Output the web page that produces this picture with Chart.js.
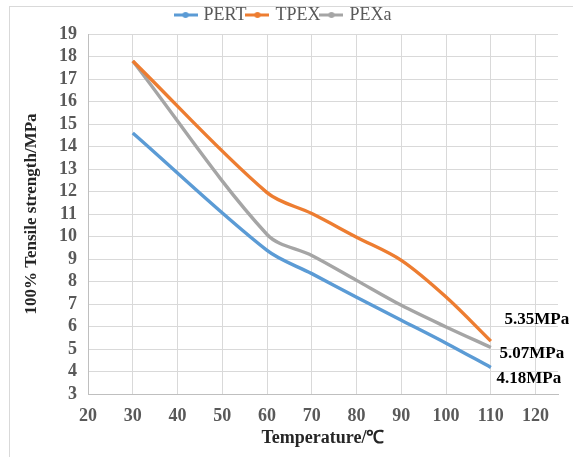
<!DOCTYPE html>
<html>
<head>
<meta charset="utf-8">
<script src="https://cdn.jsdelivr.net/npm/chart.js@4"></script>
<style>
  html, body { margin: 0; padding: 0; background: #fff; }
  #wrap { position: relative; width: 573px; height: 457px; overflow: hidden; }
  #frame { position: absolute; left: 9px; top: 6px; width: 620px; height: 520px; border: 1px solid #d9d9d9; }
  #chart { position: absolute; left: 0; top: 0; }
</style>
</head>
<body>
<div id="wrap">
  <div id="frame"></div>
  <canvas id="chart" width="573" height="457"></canvas>
</div>
<script>
const temps = [30, 60, 70, 80, 90, 100, 110];
const pert = [14.6, 9.38, 8.35, 7.3, 6.28, 5.26, 4.18];
const tpex = [17.8, 11.95, 11.02, 9.97, 8.94, 7.31, 5.35];
const pexa = [17.8, 10.09, 9.16, 8.05, 6.94, 5.98, 5.07];
const xTicks = [20, 30, 40, 50, 60, 70, 80, 90, 100, 110, 120];
const endLabels = ["4.18MPa", "5.35MPa", "5.07MPa"];

const serif = "'Liberation Serif', 'Times New Roman', serif";

// little line-with-dot marker for the legend
function marker(color) {
    const c = document.createElement("canvas");
    c.width = 24; c.height = 8;
    const g = c.getContext("2d");
    g.strokeStyle = color; g.lineWidth = 3;
    g.beginPath(); g.moveTo(0, 4); g.lineTo(24, 4); g.stroke();
    g.fillStyle = color;
    g.beginPath(); g.arc(12, 4, 3, 0, Math.PI * 2); g.fill();
    return c;
}

function series(label, values, color) {
    return {
        label: label,
        data: temps.map((t, i) => ({ x: t, y: values[i] })),
        borderColor: color,
        backgroundColor: color,
        borderWidth: 3.4,
        pointRadius: 0,
        pointStyle: marker(color),
        tension: 0.33,
        fill: false
    };
}

// value labels next to the last point of each line
const offsets = [[38, 11], [46, -22], [41, 6]];
const endLabelPlugin = {
    id: "endLabels",
    afterDatasetsDraw(chart) {
        const ctx = chart.ctx;
        ctx.save();
        ctx.font = "bold 17px " + serif;
        ctx.fillStyle = "#000";
        ctx.textAlign = "center";
        ctx.textBaseline = "middle";
        chart.data.datasets.forEach((ds, i) => {
            const last = ds.data[ds.data.length - 1];
            const px = chart.scales.x.getPixelForValue(last.x);
            const py = chart.scales.y.getPixelForValue(last.y);
            ctx.fillText(endLabels[i], px + offsets[i][0], py + offsets[i][1]);
        });
        ctx.restore();
    }
};

new Chart(document.getElementById("chart"), {
    type: "line",
    data: {
        datasets: [
            series("PERT", pert, "#5B9BD5"),
            series("TPEX", tpex, "#ED7D31"),
            series("PEXa", pexa, "#A5A5A5")
        ]
    },
    options: {
        responsive: false,
        animation: false,
        layout: { padding: { left: 10, right: 15, top: 4, bottom: 8 } },
        plugins: {
            tooltip: { enabled: false },
            legend: {
                position: "top",
                labels: {
                    usePointStyle: true,
                    boxWidth: 24,
                    boxHeight: 8,
                    padding: 2,
                    color: "#595959",
                    font: { family: serif, size: 18 }
                }
            }
        },
        scales: {
            x: {
                type: "linear",
                min: 20,
                max: 125,
                afterBuildTicks: s => { s.ticks = xTicks.map(v => ({ value: v })); },
                afterFit: s => { s.height = 55; },
                ticks: {
                    color: "#595959",
                    padding: 12,
                    font: { family: serif, size: 18, weight: "bold" }
                },
                grid: { color: "#d9d9d9", drawTicks: false },
                border: { color: "#bfbfbf" },
                title: {
                    display: true,
                    text: "Temperature/℃",
                    color: "#262626",
                    padding: { top: 0, bottom: 0 },
                    font: { family: serif, size: 18, weight: "bold" }
                }
            },
            y: {
                min: 3,
                max: 19,
                afterFit: s => { s.width = 78; },
                ticks: {
                    stepSize: 1,
                    autoSkip: false,
                    color: "#595959",
                    padding: 11,
                    font: { family: serif, size: 18, weight: "bold" }
                },
                grid: { color: "#d9d9d9", drawTicks: false },
                border: { color: "#bfbfbf" },
                title: {
                    display: true,
                    text: "100% Tensile strength/MPa",
                    color: "#262626",
                    padding: { top: 11, bottom: 0 },
                    font: { family: serif, size: 17, weight: "bold" }
                }
            }
        }
    },
    plugins: [endLabelPlugin]
});
</script>
</body>
</html>
